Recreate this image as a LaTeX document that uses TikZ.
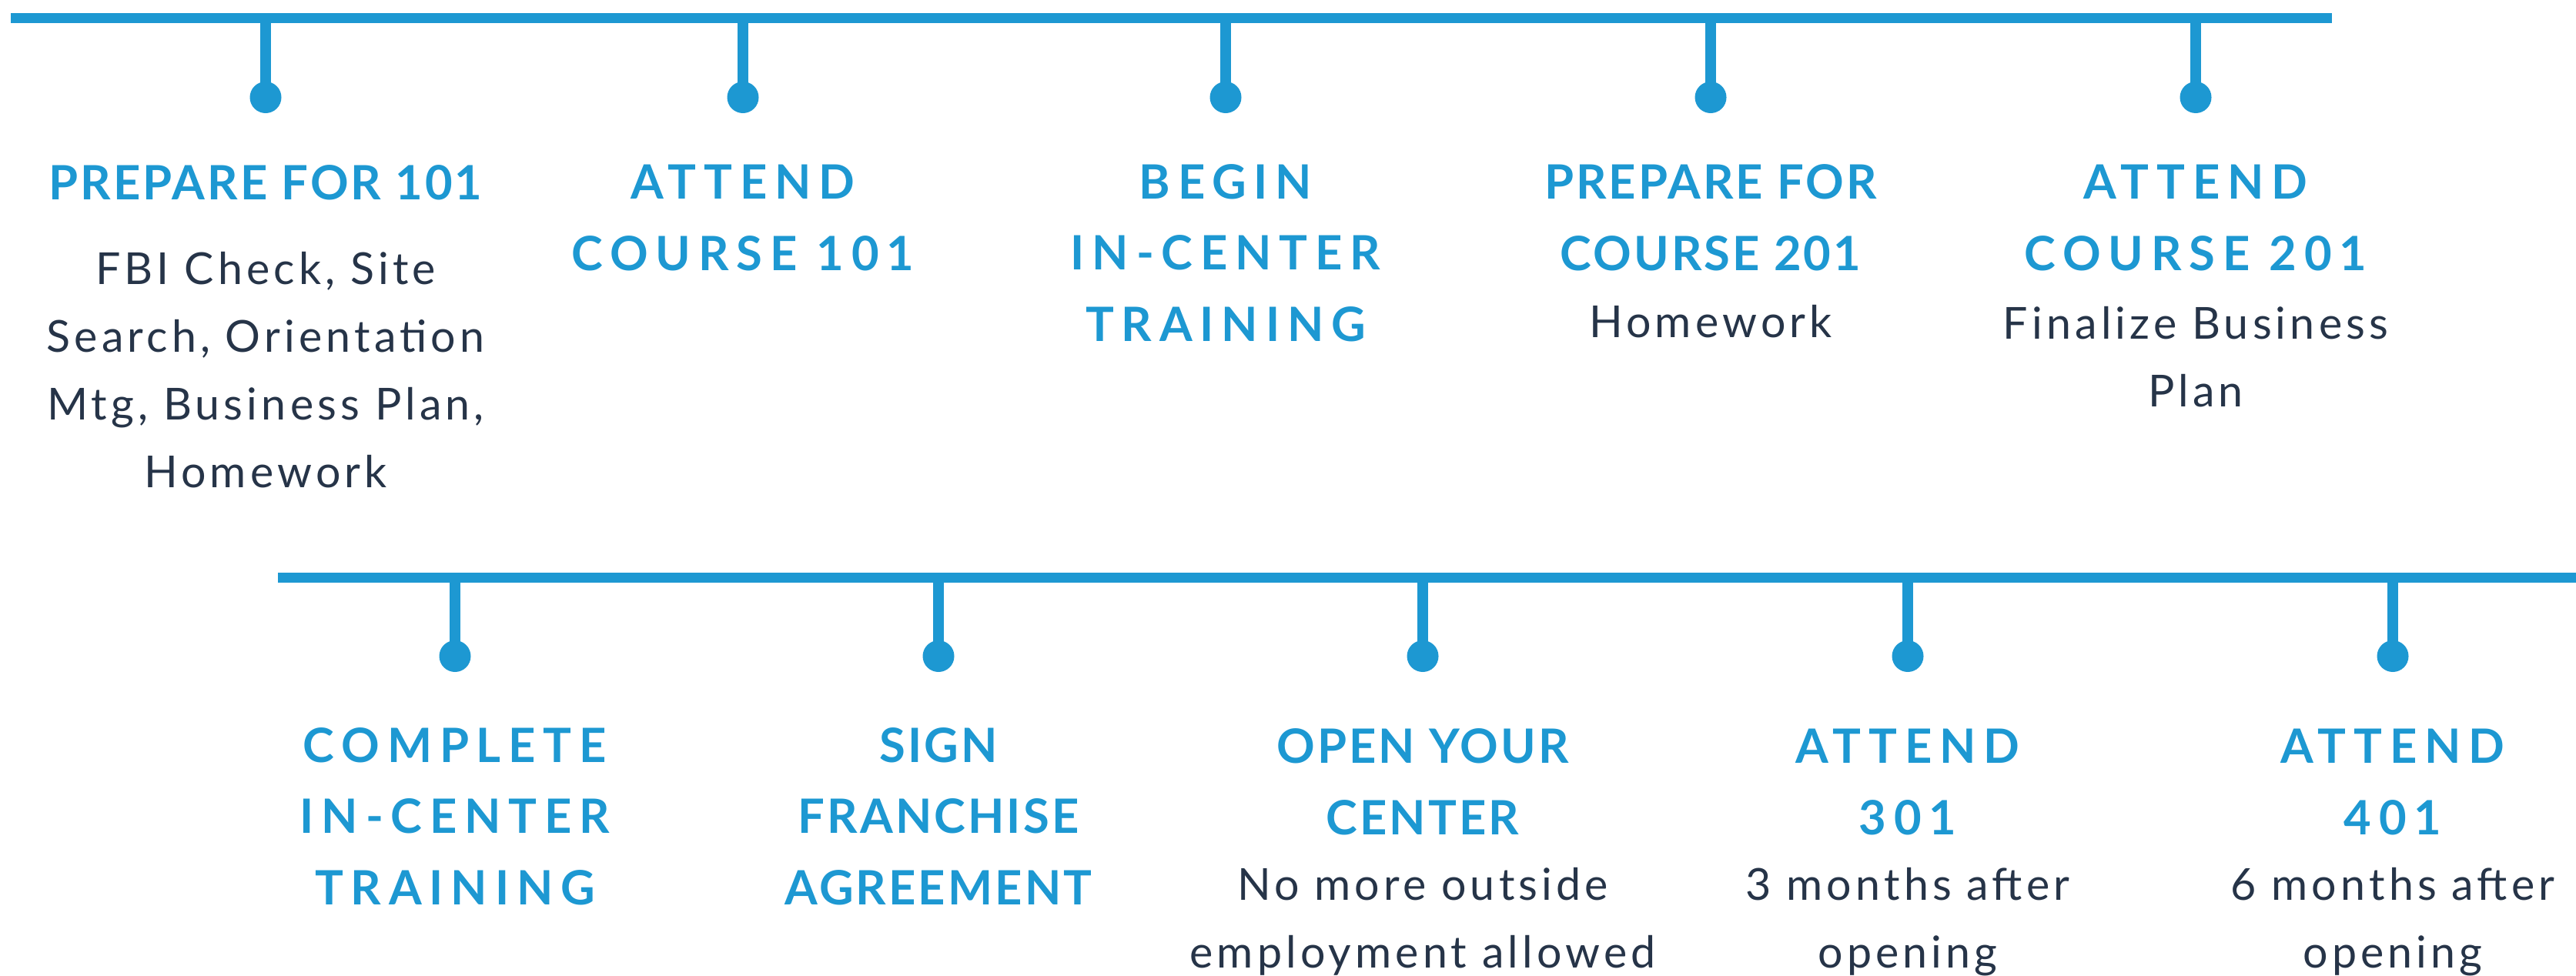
\documentclass[tikz,border=0pt]{standalone}
\usepackage{fontspec}
\setmainfont{Lato}
\usepackage{tikz}
\usetikzlibrary{calc,positioning}
\definecolor{timelineblue}{RGB}{29,152,210}
\definecolor{timelineink}{RGB}{38,52,72}
\newfontfamily\headtight{Lato}[LetterSpace=5]
\newfontfamily\headwide{Lato}[LetterSpace=16]
\newfontfamily\descfont{Lato}[LetterSpace=9]

\begin{document}
\begin{tikzpicture}[line cap=butt,
  rail/.style={draw=timelineblue,line width=0.13cm},
  tick/.style={draw=timelineblue,line width=0.14cm},
  dot/.style={circle,fill=timelineblue,minimum size=0.41cm,inner sep=0pt},
  headA/.style={anchor=base,align=center,inner sep=0pt,text=timelineblue,
    font=\headtight\bfseries\fontsize{17.5}{26.2}\selectfont},
  headB/.style={anchor=base,align=center,inner sep=0pt,text=timelineblue,
    font=\headwide\bfseries\fontsize{17.5}{26.2}\selectfont},
  desc/.style={anchor=base,align=center,inner sep=0pt,text=timelineink,
    font=\descfont\fontsize{16.3}{25}\selectfont}]
 \useasboundingbox (0,0) rectangle (33.46,-12.67);
 % upper rail (node texts sit on the baseline of their last line)
 \coordinate (topL) at (0.14,-0.23);
 \coordinate (topR) at (30.29,-0.23);
 \draw[rail] (topL) -- (topR);
 \node[dot] (t1) at (3.45,-1.265) {};
 \node[dot] (t2) at (9.65,-1.265) {};
 \node[dot] (t3) at (15.92,-1.265) {};
 \node[dot] (t4) at (22.22,-1.265) {};
 \node[dot] (t5) at (28.52,-1.265) {};
 \draw[tick] (t1.center) -- (t1 |- topL);
 \draw[tick] (t2.center) -- (t2 |- topL);
 \draw[tick] (t3.center) -- (t3 |- topL);
 \draw[tick] (t4.center) -- (t4 |- topL);
 \draw[tick] (t5.center) -- (t5 |- topL);
 \node[headA] (h1) at (3.45,-2.59) {PREPARE FOR 101};
 \node[desc] (s1) at (3.45,-6.33)
  {FBI Check, Site\\Search, Orientation\\Mtg, Business Plan,\\Homework};
 \node[headB] (h2) at (9.65,-3.51) {ATTEND\\COURSE 101};
 \node[headB] (h3) at (15.92,-4.43) {BEGIN\\IN-CENTER\\TRAINING};
 \node[headA] (h4) at (22.22,-3.51) {PREPARE FOR\\COURSE 201};
 \node[desc] (s4) at (22.22,-4.38) {Homework};
 \node[headB] (h5) at (28.52,-3.51) {ATTEND\\COURSE 201};
 \node[desc] (s5) at (28.52,-5.28) {Finalize Business\\Plan};
 % lower rail
 \coordinate (botL) at (3.61,-7.505);
 \coordinate (botR) at (33.46,-7.505);
 \draw[rail] (botL) -- (botR);
 \node[dot] (b1) at (5.91,-8.525) {};
 \node[dot] (b2) at (12.19,-8.525) {};
 \node[dot] (b3) at (18.48,-8.525) {};
 \node[dot] (b4) at (24.78,-8.525) {};
 \node[dot] (b5) at (31.08,-8.525) {};
 \draw[tick] (b1.center) -- (b1 |- botL);
 \draw[tick] (b2.center) -- (b2 |- botL);
 \draw[tick] (b3.center) -- (b3 |- botL);
 \draw[tick] (b4.center) -- (b4 |- botL);
 \draw[tick] (b5.center) -- (b5 |- botL);
 \node[headB] (h6) at (5.91,-11.75) {COMPLETE\\IN-CENTER\\TRAINING};
 \node[headA] (h7) at (12.19,-11.75) {SIGN\\FRANCHISE\\AGREEMENT};
 \node[headA] (h8) at (18.48,-10.84) {OPEN YOUR\\CENTER};
 \node[desc] (s8) at (18.48,-12.57) {No more outside\\employment allowed};
 \node[headB] (h9) at (24.78,-10.84) {ATTEND\\301};
 \node[desc] (s9) at (24.78,-12.57) {3 months after\\opening};
 \node[headB] (h10) at (31.08,-10.84) {ATTEND\\401};
 \node[desc] (s10) at (31.08,-12.57) {6 months after\\opening};
\end{tikzpicture}
\end{document}
